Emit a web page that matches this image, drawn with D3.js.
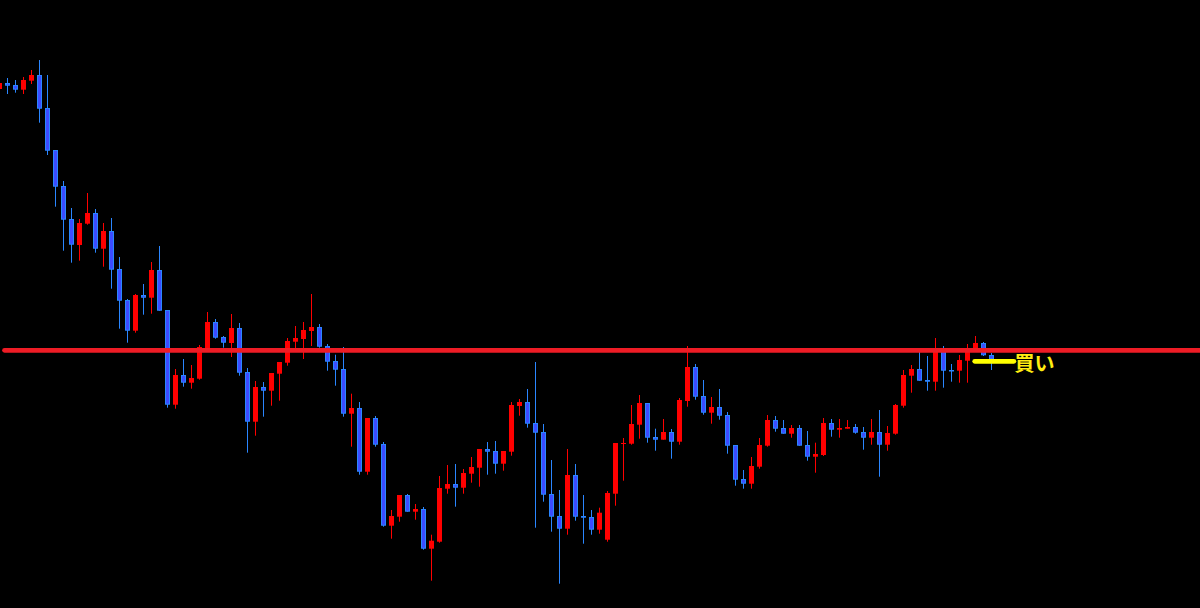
<!DOCTYPE html>
<html><head><meta charset="utf-8">
<script src="https://cdn.jsdelivr.net/npm/d3@7"></script>
<style>html,body{margin:0;padding:0;background:#000;overflow:hidden}svg{display:block}</style>
</head><body>
<svg id="chart" width="1200" height="608"></svg>
<script>
// OHLC data (price units)
const opens  = [519,525,523,518.3,527.3,533,500,458,422,389,363,384.3,395,359.3,377,339,308,277.3,313,310.3,338,298,203.3,233,225.3,229.3,259,286,271,265,280,236,186.3,221,217.3,234.3,245.3,266.3,269,277,281,262,247,239,194.3,200,136.3,190,164,82.3,91.3,113,96.3,99,59.3,66.3,119.3,124,120.3,134.3,140.3,159,157,144.3,156.3,202,206,185,176,114,92,79.3,133,92,91,78.3,68.3,114.3,164,164.3,183.3,205,171,168.3,176,166.3,207,241,212,195.3,201,193,163,129,124.3,141.3,162.3,188,180,174.3,180,163,151.3,153,185,178.3,179.3,181,176,170.3,176,163.3,174.3,202.3,232.3,239,228,226.3,258,238,237.3,247.3,258,265,253];
const highs  = [526,530,528,531,538,548,533,458,427,400,389,415,399,385,390,351,309,314,324,346,362,298,239,249,243,263,296,289,272,294,285,240,227,226,235,246,270,282,286,314,284,264,253.3,261,214.3,206,190,192,166,98,113,114,104,101,73.3,132,143,144,139,151,159,166,167,157,206,209,219,246,184,148,118,159,144,113,98,100.3,117,165,170,203,213,205,179.3,189,179,210,262,244,228,211,219,196,163,138,151,170,193,192,188,183,183,177,165.3,190,189,189,188,184,181,189,198,182,204,238,243,257,252,270,262,244,253,264,272,266,255];
const lows   = [517,514,515.3,514,524,485.3,453,401.3,357.3,345.3,347.3,383.3,355.3,341.3,319.3,279.3,265.3,275.3,293.3,294.3,297.3,200.3,199.3,221.3,219.3,228.3,258,269.3,260.3,251,232.3,155.3,172.3,191.3,202.3,207.3,242.3,258,249,262,260.3,237.3,222.3,191.3,161.3,133.3,133.3,161.3,81.3,69.3,86.3,96.3,88.3,58.3,27.3,65.3,114.3,101.3,114.3,125.3,121.3,133.3,134.3,137.3,152.3,192.3,180.3,80.3,106.3,76.3,24.3,73.3,87.3,64.3,73.3,74.3,66.3,102.3,127.3,163.3,169.3,165.3,157.3,168.3,149.3,163.3,201.3,208.3,193.3,184.3,188.3,154.3,122.3,119.3,119.3,139.3,161.3,176.3,174.3,170.3,162.3,147.3,135.3,152,171.3,170.3,179.3,174.3,158.3,163.3,131.3,157.3,173.3,200.3,215.3,227.3,217.3,217.3,220.3,226.3,225.3,225.3,256,252,238];
const closes = [525,522.3,518.3,528,533,499.3,457.3,421.3,388.3,363.3,385,395,359.3,377,338.3,307.3,277.3,313,310.3,338,297.3,203.3,233,225.3,230,261,286,270.3,265.3,280,235.3,186.3,221,217.3,235,246,267,270,278,281,261.3,246.3,238.3,194.3,200,136.3,190,163.3,82.3,92,113,96.3,99,59.3,67.3,120,124,120.3,135,141,159,156.3,144.3,157,203,206,184.3,175.3,113.3,91.3,79.3,133,91.3,90.3,78.3,95.3,115,165,165,184,205,170.3,168.3,176,166.3,208,241,211.3,195.3,201,192.3,162.3,128.3,124.3,142,163,188,179.3,174.3,180,162.3,151.3,154,185,178.3,180,181,175.3,170.3,176,163.3,175,203,233,239,227.3,226.3,259,237.3,237.3,248,259,265,252.7,248.7];

// reference lines
const resistanceLevel = 257.7;
const buyLevel = 246.7;
const buyLabel = "買い";
const buyStartIndex = 121.9;
const buyEndIndex = 126.8;

const W = 1200, H = 608;
const svg = d3.select("#chart");
svg.append("rect").attr("width", W).attr("height", H).attr("fill", "#000");

const data = opens.map((o, i) => ({i, o, h: highs[i], l: lows[i], c: closes[i]}));
const x = d3.scaleLinear().domain([0, 150]).range([-0.5, 1199.5]);
const y = d3.scaleLinear().domain([0, 608]).range([608, 0]);

const UP = "#ff0000", DOWN_FILL = "#3c4bff", DOWN_EDGE = "#2a86ff";

const g = svg.append("g");
const c = g.selectAll("g.c").data(data).enter().append("g").attr("class", "c");
c.append("line")
  .attr("x1", d => x(d.i)).attr("x2", d => x(d.i))
  .attr("y1", d => y(d.h)).attr("y2", d => y(d.l))
  .attr("stroke", d => d.c >= d.o ? UP : DOWN_EDGE)
  .attr("stroke-width", 1);
c.each(function(d) {
  const sel = d3.select(this);
  const top = y(Math.max(d.o, d.c)), bot = y(Math.min(d.o, d.c));
  if (d.c >= d.o) {
    sel.append("rect").attr("x", x(d.i) - 2.5).attr("width", 5)
      .attr("y", top).attr("height", Math.max(1, bot - top))
      .attr("fill", UP);
  } else {
    sel.append("rect").attr("x", x(d.i) - 2).attr("width", 4)
      .attr("y", top + 0.5).attr("height", Math.max(0.5, bot - top - 1))
      .attr("fill", DOWN_FILL).attr("stroke", DOWN_EDGE).attr("stroke-width", 1);
  }
});

// horizontal resistance line
svg.append("line")
  .attr("x1", 4.5).attr("x2", 1210)
  .attr("y1", y(resistanceLevel)).attr("y2", y(resistanceLevel))
  .attr("stroke", "#ee1c25").attr("stroke-width", 4.7).attr("stroke-linecap", "round");

// buy marker
svg.append("line")
  .attr("x1", x(buyStartIndex)).attr("x2", x(buyEndIndex))
  .attr("y1", y(buyLevel)).attr("y2", y(buyLevel))
  .attr("stroke", "#ffff00").attr("stroke-width", 4.7).attr("stroke-linecap", "round");
svg.append("text")
  .attr("x", x(buyEndIndex) + 0.5).attr("y", y(buyLevel) + 1)
  .attr("dominant-baseline", "central")
  .attr("font-family", "'Noto Sans CJK JP', sans-serif")
  .attr("font-weight", "bold").attr("font-size", 20)
  .attr("fill", "#ffec10")
  .text(buyLabel);
</script>
</body></html>
